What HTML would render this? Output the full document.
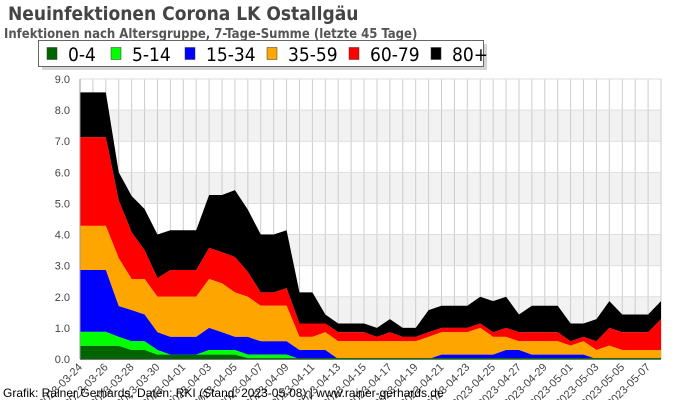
<!DOCTYPE html>
<html><head><meta charset="utf-8"><style>
body{margin:0;width:700px;height:400px;background:#fff;overflow:hidden;font-family:"Liberation Sans",sans-serif}
svg{display:block}
.cond{font-family:"DejaVu Sans Condensed","DejaVu Sans","Liberation Sans Narrow",sans-serif;font-stretch:condensed}
</style></head><body>
<svg id="c" width="700" height="400" xmlns="http://www.w3.org/2000/svg">
<text class="cond" x="8" y="20" font-size="19" font-weight="bold" fill="#444">Neuinfektionen Corona LK Ostallgäu</text>
<text class="cond" x="4" y="38" font-size="13" font-weight="bold" fill="#555">Infektionen nach Altersgruppe, 7-Tage-Summe (letzte 45 Tage)</text>
<g id="grid"></g>
<g id="areas"></g>
<g id="axes"></g>
<g>
<rect x="42" y="44" width="445" height="26" fill="#aaa" opacity="0.5"/>
<rect x="38.5" y="40.5" width="445" height="26" fill="#fff" stroke="#666"/>
<g id="legend" class="cond" font-size="19"></g>
</g>
<text x="3" y="397" font-size="12" fill="#000">Grafik: Rainer Gerhards, Daten: RKI (Stand: 2023-05-08) | www.rainer-gerhards.de</text>
</svg>
<script>
// cumulative stack tops per age group (top of each layer)
const dates=["03-24","03-25","03-26","03-27","03-28","03-29","03-30","03-31","04-01","04-02","04-03","04-04","04-05","04-06","04-07","04-08","04-09","04-10","04-11","04-12","04-13","04-14","04-15","04-16","04-17","04-18","04-19","04-20","04-21","04-22","04-23","04-24","04-25","04-26","04-27","04-28","04-29","04-30","05-01","05-02","05-03","05-04","05-05","05-06","05-07","05-08"];
const top0_4=[.42,.42,.42,.42,.29,.29,.14,.14,.14,.14,.14,.14,.14,0,0,0,0,0,0,0,0,0,0,0,0,0,0,0,0,0,0,0,0,0,0,0,0,0,0,0,0,0,0,0,0,0].map(v=>Math.max(v,0.03));
const top5_14=[.87,.87,.87,.71,.57,.57,.29,.14,.14,.14,.29,.29,.29,.14,.14,.14,.14,0,0,0,0,0,0,0,0,0,0,0,0,0,0,0,0,0,0,0,0,0,0,0,0,0,0,0,0,0];
const top15_34=[2.86,2.86,2.86,1.7,1.57,1.43,.86,.71,.71,.71,1.0,.86,.71,.71,.57,.57,.57,.29,.29,.29,0,0,0,0,0,0,0,0,.14,.14,.14,.14,.14,.29,.29,.14,.14,.14,.14,.14,0,0,0,0,0,0];
const top35_59=[4.28,4.28,4.28,3.24,2.57,2.57,2.0,2.0,2.0,2.0,2.57,2.43,2.14,2.0,1.71,1.71,1.71,.71,.71,.86,.57,.57,.57,.57,.57,.57,.57,.71,.86,.86,.86,1.0,.71,.71,.57,.57,.57,.57,.43,.57,.29,.43,.29,.29,.29,.29];
const top60_79=[7.13,7.13,7.13,5.1,4.08,3.5,2.6,2.86,2.86,2.86,3.57,3.43,3.28,2.8,2.14,2.14,2.28,1.14,1.14,1.14,.86,.86,.86,.71,.86,.71,.71,.86,1.0,1.0,1.0,1.14,.86,1.0,.86,.86,.86,.86,.57,.71,.57,1.0,.86,.86,.86,1.28];
const top80=[8.57,8.57,8.57,6.0,5.24,4.82,4.0,4.14,4.14,4.14,5.27,5.27,5.43,4.8,4.0,4.0,4.14,2.14,2.14,1.43,1.14,1.14,1.14,1.0,1.28,1.0,1.0,1.57,1.71,1.71,1.71,2.0,1.86,2.0,1.43,1.71,1.71,1.71,1.14,1.14,1.28,1.86,1.43,1.43,1.43,1.86];
const yTicks=[0,1,2,3,4,5,6,7,8,9];
const groups=["0-4","5-14","15-34","35-59","60-79","80+"];
const colors=["#006400","#00ff00","#0000ff","#ffa500","#ff0000","#000000"];
const tops=[top0_4,top5_14,top15_34,top35_59,top60_79,top80];

const NS="http://www.w3.org/2000/svg";
const X0=80,X1=661,Y0=359,Y1=79,YMAX=9;
const xs=i=>X0+(X1-X0)*i/(dates.length-1);
const ys=v=>Y0-(Y0-Y1)*v/YMAX;
function mk(p,t,a){const e=document.createElementNS(NS,t);for(const k in a)e.setAttribute(k,a[k]);p.appendChild(e);return e;}
const grid=document.getElementById('grid'),areas=document.getElementById('areas'),axes=document.getElementById('axes'),leg=document.getElementById('legend');
for(let k=0;k<YMAX;k++){if(k%2===1){const r=mk(grid,'rect',{x:X0,y:ys(k+1),width:X1-X0,height:ys(k)-ys(k+1),fill:'#f2f2f2'});

}}
dates.forEach((d,i)=>{const l=mk(grid,'line',{x1:xs(i),x2:xs(i),y1:Y1,y2:Y0,stroke:'#ccc','stroke-width':1});

});
yTicks.forEach(v=>{const l=mk(grid,'line',{x1:X0,x2:X1,y1:ys(v),y2:ys(v),stroke:'#ddd','stroke-width':1});


const t=mk(axes,'text',{x:70,y:ys(v)+4,'text-anchor':'end','font-size':11,fill:'#444'});t.textContent=v.toFixed(1);

});
for(let g=groups.length-1;g>=0;g--){
 let pts=tops[g].map((v,i)=>xs(i)+','+ys(v));
 const base=g>0?tops[g-1]:tops[g].map(()=>0);
 for(let i=dates.length-1;i>=0;i--)pts.push(xs(i)+','+ys(base[i]));
 const p=mk(areas,'polygon',{points:pts.join(' '),fill:colors[g]});
 
 
}
const al=mk(axes,'line',{x1:X0,x2:X0,y1:Y1,y2:Y0,stroke:'#999'});


const bl=mk(axes,'line',{x1:X0,x2:X1,y1:Y0+0.5,y2:Y0+0.5,stroke:'#777'});


dates.forEach((d,i)=>{if(i%2)return;const x=xs(i),y=Y0+6;
 const t=mk(axes,'text',{x:x,y:y+4,'text-anchor':'end','font-size':11,fill:'#444',transform:`rotate(-45 ${x} ${y})`});
 t.textContent='2023-'+d;
 
 });
const lx=[47,111,185,267,349,431];
groups.forEach((g,i)=>{const r=mk(leg,'rect',{x:lx[i],y:47.5,width:10,height:12,fill:colors[i],stroke:'#333','stroke-width':0.5});


const t=mk(leg,'text',{x:lx[i]+21,y:61,fill:'#000'});t.textContent=g;

});
</script>
</body></html>
